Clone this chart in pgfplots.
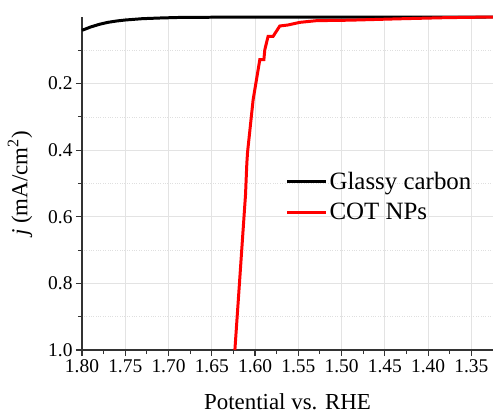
\documentclass[border=0pt]{standalone}
\usepackage{pgfplots}
\pgfplotsset{compat=1.18}
\usepackage{fontspec}
\setmainfont{Liberation Serif}
\begin{document}
\begin{tikzpicture}
\begin{axis}[
  at={(0,0)}, anchor=south west,
  scale only axis, width=411bp, height=333bp,
  x dir=reverse, y dir=reverse,
  xmin=1.325, xmax=1.80, ymin=0, ymax=1.0,
  axis x line*=bottom, axis y line*=left,
  axis line style={black!80, line width=1.2pt},
  xtick={1.35,1.40,...,1.801}, minor xtick={1.375,1.425,...,1.80},
  ytick={0.2,0.4,...,1.01}, minor ytick={0.1,0.3,...,0.91},
  xticklabel={\rmfamily\pgfmathprintnumber[fixed,fixed zerofill,precision=2,assume math mode=true]{\tick}},
  yticklabel={\rmfamily\pgfmathprintnumber[fixed,fixed zerofill,precision=1,assume math mode=true]{\tick}},
  tick style={black!80, line width=1.1pt},
  tick align=outside,
  major tick length=6bp, minor tick length=4bp,
  xmajorgrids, ymajorgrids, yminorgrids,
  major grid style={gray!22, line width=0.8pt},
  minor grid style={gray!25, dotted, line width=0.8pt},
  tick label style={font=\rmfamily\fontsize{19.5}{22}\selectfont},
  label style={font=\fontsize{23}{26}\selectfont},
  xlabel={Potential vs. RHE},
  ylabel={\textit{j} (mA/cm$^{\mathrm{2}}$)},
  ylabel style={font=\fontsize{23}{26}\selectfont, yshift=9bp},
  xlabel style={yshift=-14bp},
  clip=false,
  legend style={at={(0.49,0.54)}, anchor=north west, draw=none, fill=none,
    font=\fontsize{25}{29}\selectfont, row sep=8bp, inner xsep=2bp, inner ysep=0bp},
  legend cell align=left,
  legend image code/.code={\draw[#1] (0bp,0bp) -- (39bp,0bp);},
]
\addplot[black, line width=3pt] coordinates {
(1.80,0.040) (1.79,0.030) (1.78,0.022) (1.77,0.016) (1.76,0.012) (1.75,0.009)
(1.73,0.005) (1.71,0.003) (1.69,0.0015) (1.65,0.0007) (1.55,0.0003) (1.325,0)
};
\addlegendentry{Glassy carbon}
\addplot[red, line width=3pt] coordinates {
(1.6233,1.0) (1.611,0.533) (1.6095,0.44) (1.6087,0.407) (1.6022,0.248)
(1.5945,0.128) (1.5898,0.128) (1.5887,0.098) (1.5849,0.058) (1.5791,0.058)
(1.5714,0.027) (1.562,0.024) (1.548,0.016) (1.529,0.011) (1.491,0.0096)
(1.433,0.0054) (1.38,0.002) (1.325,0.0)
};
\addlegendentry{COT NPs}
\end{axis}
\pgfresetboundingbox
\path[use as bounding box] (-82bp,-63bp) rectangle (411bp,350bp);
\end{tikzpicture}
\end{document}
